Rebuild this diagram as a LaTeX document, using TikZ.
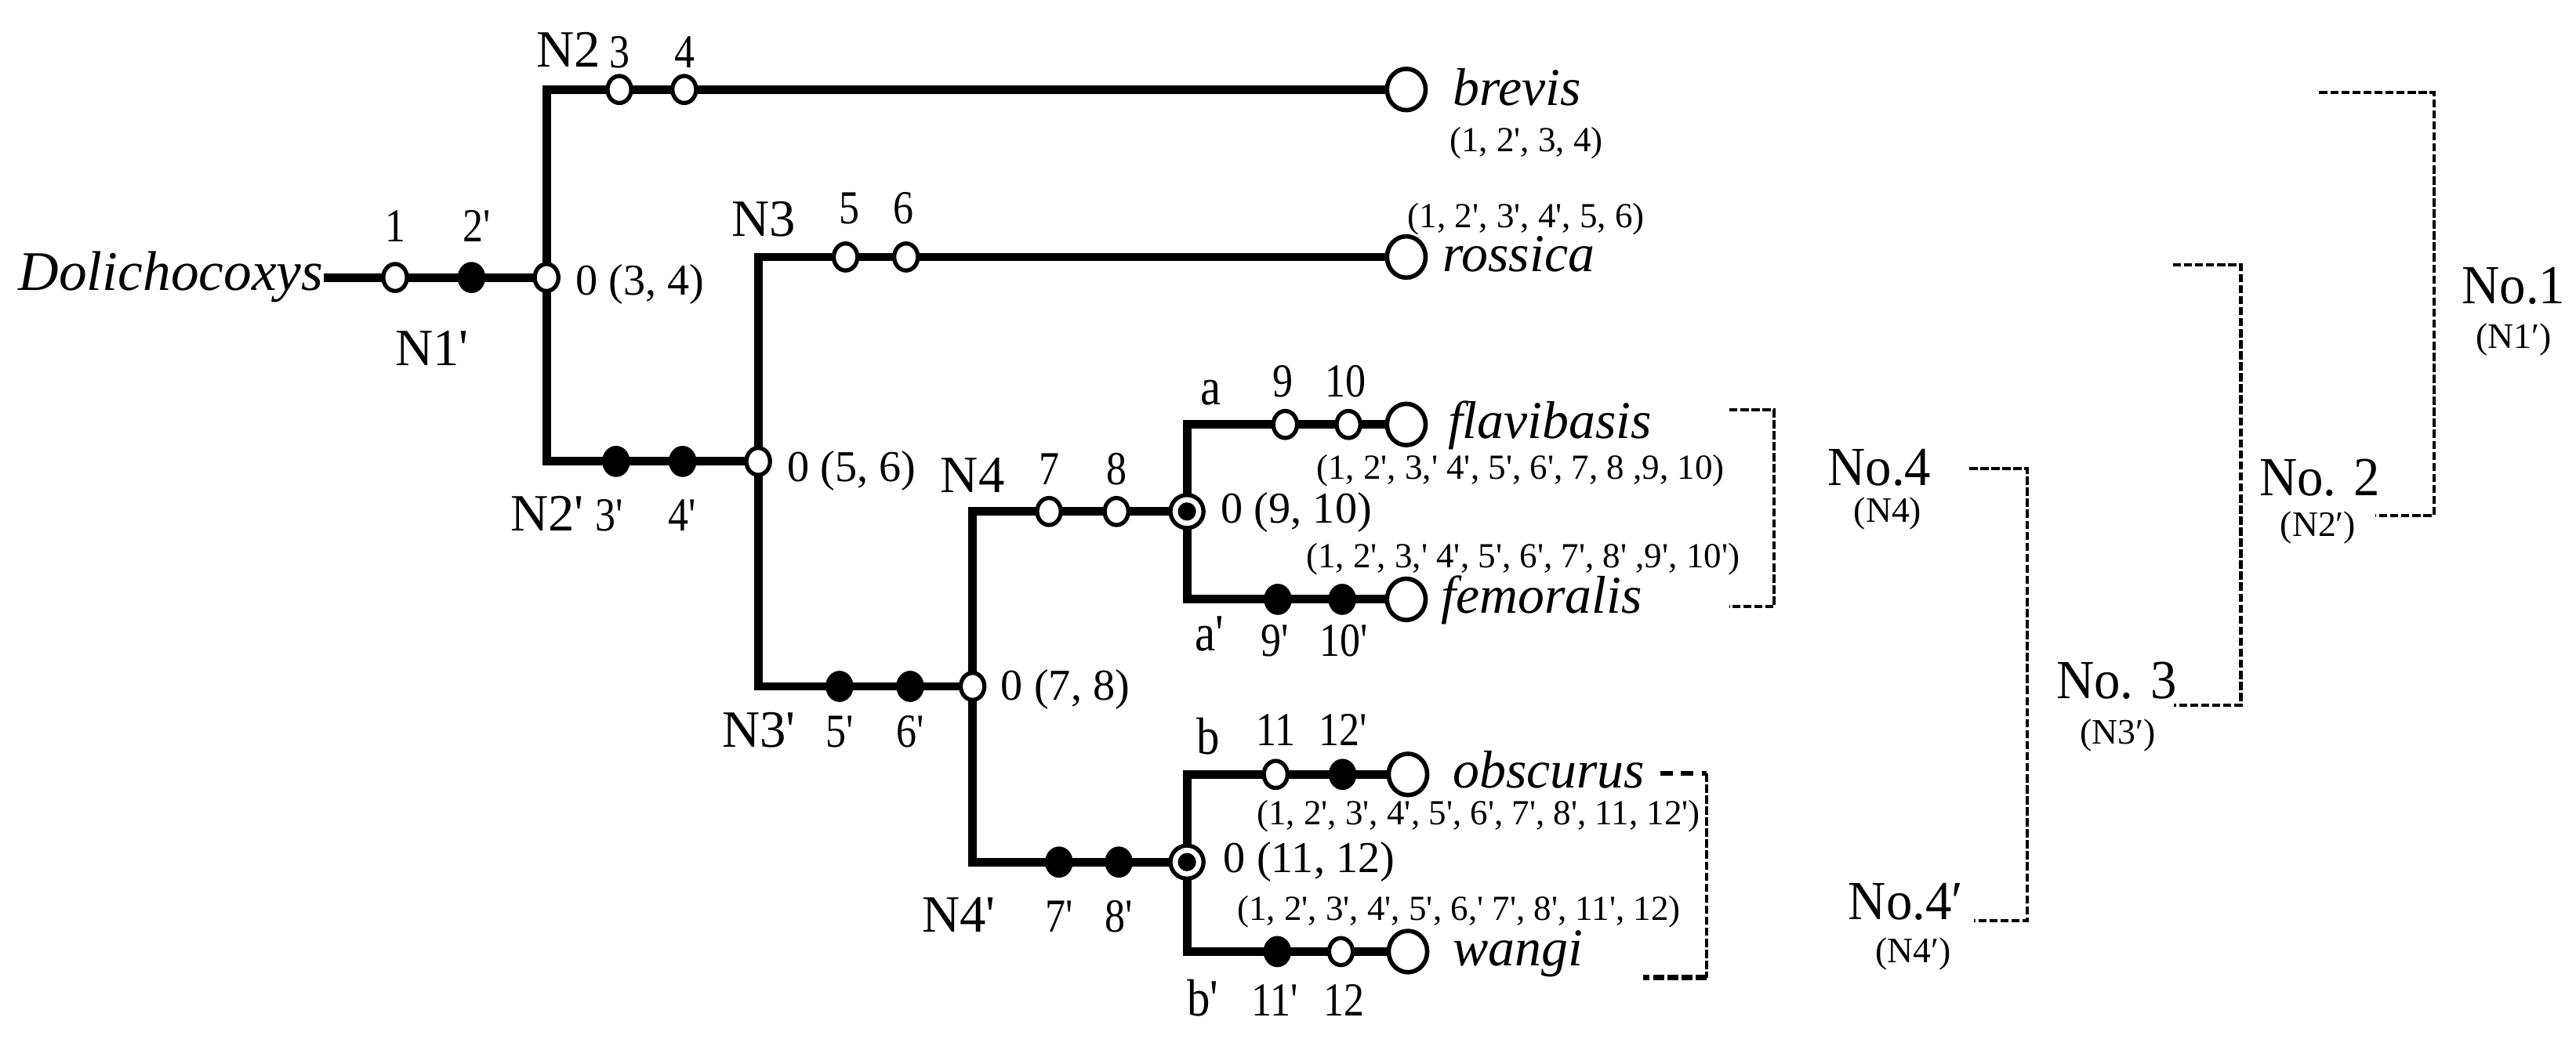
\documentclass[tikz,border=0pt]{standalone}
\usepackage{fontspec}
\setmainfont{Liberation Serif}[Ligatures=TeXOff]
\usetikzlibrary{shapes.geometric}
\pgfdeclarelayer{bg}
\pgfsetlayers{bg,main}
\tikzset{
  br/.style={line width=3.1pt, line join=miter},
  oc/.style={ellipse, draw, fill=white, line width=1.5pt, inner sep=0pt, minimum width=8.6pt, minimum height=9.8pt},
  fc/.style={oc, fill=black},
  bc/.style={ellipse, draw, fill=white, line width=1.6pt, inner sep=0pt, minimum width=14pt, minimum height=15pt},
  dc/.style={circle, draw, fill=white, line width=1.5pt, inner sep=0pt, minimum size=12pt,
    path picture={\fill[black] (path picture bounding box.center) circle[radius=3.3pt];}},
  sp/.style={font=\fontsize{19.3}{21}\selectfont\itshape, inner sep=0pt, anchor=base west},
  zl/.style={font=\fontsize{16}{18}\selectfont, inner sep=0pt, anchor=west},
  nl/.style={font=\fontsize{19}{21}\selectfont, inner sep=0pt, anchor=base},
  ab/.style={font=\fontsize{19}{21}\selectfont, inner sep=0pt, anchor=base, xscale=0.88},
  dl/.style={font=\fontsize{17.2}{19}\selectfont, inner sep=0pt, anchor=base, xscale=0.86},
  pl/.style={font=\fontsize{12.8}{14}\selectfont, inner sep=0pt, anchor=center},
  nolab/.style={font=\fontsize{20}{22}\selectfont, inner sep=0pt, xscale=0.95},
  nnlab/.style={font=\fontsize{13}{15}\selectfont, inner sep=0pt},
  bk/.style={line width=1.15pt, dash pattern=on 3pt off 1pt},
}
\begin{document}
\begin{tikzpicture}[x=0.020957cm, y=-0.020957cm]
\useasboundingbox (0,0) rectangle (1568,632.7);

% ---- markers ----
\node[oc] (c1) at (240.5,169) {};
\node[fc] (c2) at (287,169) {};
\node[oc] (j1) at (332.7,169) {};
\coordinate (root) at (197,169);

\node[oc] (c3) at (377,54.5) {};
\node[oc] (c4) at (416.5,54.5) {};
\node[bc] (Lbre) at (856,54.5) {};

\node[fc] (c3p) at (375,281) {};
\node[fc] (c4p) at (415.5,281) {};
\node[oc] (j2) at (461.5,281) {};

\node[oc] (c5) at (514.7,156.5) {};
\node[oc] (c6) at (551.5,156.5) {};
\node[bc] (Lros) at (856,156.5) {};

\node[fc] (c5p) at (511,418) {};
\node[fc] (c6p) at (554,418) {};
\node[oc] (j3) at (592,418) {};

\node[oc] (c7) at (638.5,311.5) {};
\node[oc] (c8) at (679.6,311.5) {};
\node[dc] (ja) at (722.5,311.5) {};

\node[oc] (c9) at (782.3,258.5) {};
\node[oc] (c10) at (820.8,258.5) {};
\node[bc] (Lfla) at (856,258.5) {};

\node[fc] (c9p) at (777.8,365) {};
\node[fc] (c10p) at (817,365) {};
\node[bc] (Lfem) at (856,365) {};

\node[fc] (c7p) at (644.6,525) {};
\node[fc] (c8p) at (681,525) {};
\node[dc] (jb) at (722.5,525) {};

\node[oc] (c11) at (776.5,471.6) {};
\node[fc] (c12p) at (817.2,471.6) {};
\node[bc] (Lobs) at (857,471.6) {};

\node[fc] (c11p) at (777.5,579.5) {};
\node[oc] (c12) at (816.2,579.5) {};
\node[bc] (Lwan) at (857,579.5) {};

% ---- branches ----
\begin{pgfonlayer}{bg}
\draw[br] (root) -- (c1.center) -- (c2.center) -- (j1.center);
\draw[br] (c3.center) -| (j1.center) |- (c3p.center);
\draw[br] (c3.center) -- (c4.center) -- (Lbre.center);
\draw[br] (c3p.center) -- (c4p.center) -- (j2.center);
\draw[br] (c5.center) -| (j2.center) |- (c5p.center);
\draw[br] (c5.center) -- (c6.center) -- (Lros.center);
\draw[br] (c5p.center) -- (c6p.center) -- (j3.center);
\draw[br] (c7.center) -| (j3.center) |- (c7p.center);
\draw[br] (c7.center) -- (c8.center) -- (ja.center);
\draw[br] (c9.center) -| (ja.center) |- (c9p.center);
\draw[br] (c9.center) -- (c10.center) -- (Lfla.center);
\draw[br] (c9p.center) -- (c10p.center) -- (Lfem.center);
\draw[br] (c7p.center) -- (c8p.center) -- (jb.center);
\draw[br] (c11.center) -| (jb.center) |- (c11p.center);
\draw[br] (c11.center) -- (c12p.center) -- (Lobs.center);
\draw[br] (c11p.center) -- (c12.center) -- (Lwan.center);
\end{pgfonlayer}

% ---- taxa ----
\node[sp, font=\fontsize{20.3}{22}\selectfont\itshape] (dol) at (11,177) {Dolichocoxys};
\node[sp] (tbre) at (884,64) {brevis};
\node[sp] (tros) at (878,165.5) {rossica};
\node[sp] (tfla) at (881,267) {flavibasis};
\node[sp] (tfem) at (877,373.5) {femoralis};
\node[sp] (tobs) at (884,480) {obscurus};
\node[sp] (twan) at (884,588) {wangi};

% ---- character lists ----
\node[pl] (pbre) at (929,87) {(1, 2', 3, 4)};
\node[pl] (pros) at (929,133.5) {(1, 2', 3', 4', 5, 6)};
\node[pl] (pfla) at (925.5,286.4) {(1, 2', 3,' 4', 5', 6', 7, 8 ,9, 10)};
\node[pl] (pfem) at (927,340.5) {(1, 2', 3,' 4', 5', 6', 7', 8' ,9', 10')};
\node[pl] (pobs) at (900,497) {(1, 2', 3', 4', 5', 6', 7', 8', 11, 12')};
\node[pl] (pwan) at (888,555.5) {(1, 2', 3', 4', 5', 6,' 7', 8', 11', 12)};

% ---- node labels ----
\node[dl] (l1) at (240.5,147.4) {1};
\node[dl] (l2p) at (290,147.4) {2'};
\node[nl] (lN1p) at (263,222.6) {N1'};
\node[zl] (z34) at (350,173) {0 (3, 4)};

\node[nl] (lN2) at (346,40.6) {N2};
\node[dl] (l3) at (377,41.5) {3};
\node[dl] (l4) at (417,41.5) {4};

\node[nl] (lN2p) at (333,323.5) {N2'};
\node[dl] (l3p) at (371,323.5) {3'};
\node[dl] (l4p) at (415,323.5) {4'};
\node[zl] (z56) at (479,287) {0 (5, 6)};

\node[nl] (lN3) at (465,144) {N3};
\node[dl] (l5) at (517,136) {5};
\node[dl] (l6) at (550,136) {6};

\node[nl] (lN3p) at (462,455) {N3'};
\node[dl] (l5p) at (511,455) {5'};
\node[dl] (l6p) at (554,455) {6'};
\node[zl] (z78) at (609,420) {0 (7, 8)};

\node[nl] (lN4) at (592,299.7) {N4};
\node[dl] (l7) at (638.5,295) {7};
\node[dl] (l8) at (679.6,295) {8};
\node[zl] (z910) at (743,312) {0 (9, 10)};

\node[ab] (la) at (737,246.4) {a};
\node[dl] (l9) at (781,241.5) {9};
\node[dl] (l10) at (819,241.5) {10};

\node[ab] (lap) at (736,396.5) {a'};
\node[dl] (l9p) at (776,399.6) {9'};
\node[dl] (l10p) at (818,399.6) {10'};

\node[nl] (lN4p) at (583.6,567.4) {N4'};
\node[dl] (l7p) at (644.6,567.4) {7'};
\node[dl] (l8p) at (681,567.4) {8'};
\node[zl] (z1112) at (744.5,525) {0 (11, 12)};

\node[ab] (lb) at (735.5,459.3) {b};
\node[dl] (l11) at (776.5,454) {11};
\node[dl] (l12p) at (817.5,454) {12'};

\node[ab] (lbp) at (732,618.7) {b'};
\node[dl] (l11p) at (776,618.7) {11'};
\node[dl] (l12) at (818,618.7) {12};

% ---- brackets ----
\coordinate (b1a) at (1052.6,249.7); \coordinate (b1b) at (1080,249.7);
\coordinate (b1c) at (1080,369.5);   \coordinate (b1d) at (1052.6,369.5);
\draw[bk] (b1a) -- (b1b) -- (b1c) -- (b1d);

\coordinate (b2a) at (1010.6,471); \coordinate (b2b) at (1039,471);
\coordinate (b2c) at (1039,595.5); \coordinate (b2d) at (1000,595.5);
\draw[bk] (b2b) -- (b2c);
\draw[line width=1.5pt, dash pattern=on 4.5pt off 3pt] (b2a) -- (b2b);
\draw[line width=2pt, dash pattern=on 4pt off 1.2pt] (b2c) -- (b2d);

\coordinate (b3a) at (1198.7,285.3); \coordinate (b3b) at (1234,285.3);
\coordinate (b3c) at (1234,560.7);   \coordinate (b3d) at (1201.5,560.7);
\draw[bk] (b3a) -- (b3b) -- (b3c) -- (b3d);

\coordinate (b4a) at (1322.6,161.3); \coordinate (b4b) at (1364,161.3);
\coordinate (b4c) at (1364,429.5);   \coordinate (b4d) at (1323,429.5);
\draw[bk] (b4a) -- (b4b) -- (b4c) -- (b4d);

\coordinate (b5a) at (1411.7,56.3); \coordinate (b5b) at (1481.4,56.3);
\coordinate (b5c) at (1481.4,314);  \coordinate (b5d) at (1446,314);
\draw[bk] (b5a) -- (b5b) -- (b5c) -- (b5d);

% ---- bracket labels ----
\node[nolab] (no1) at (1530,174) {No.1};
\node[nnlab] (nn1) at (1530,207) {(N1′)};
\node[nolab] (no2) at (1412,291) {No. 2};
\node[nnlab] (nn2) at (1411,321.4) {(N2′)};
\node[nolab] (no3) at (1288.5,414.4) {No. 3};
\node[nnlab] (nn3) at (1289,447.6) {(N3′)};
\node[nolab] (no4) at (1144,284.6) {No.4};
\node[nnlab] (nn4) at (1149,313) {(N4)};
\node[nolab] (no4p) at (1160,549.4) {No.4′};
\node[nnlab] (nn4p) at (1164.5,581) {(N4′)};
\end{tikzpicture}
\end{document}
